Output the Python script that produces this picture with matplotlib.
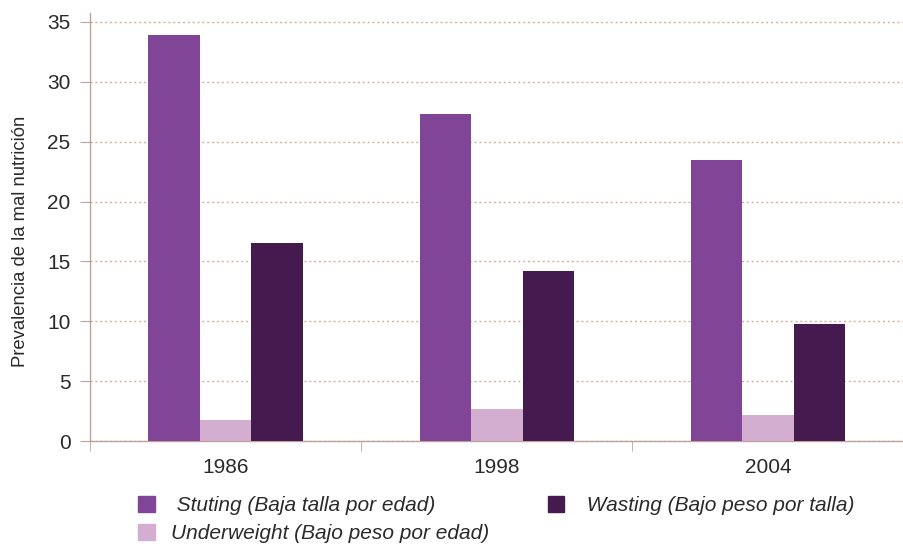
import matplotlib
matplotlib.use("Agg")
import matplotlib.pyplot as plt
import numpy as np
from matplotlib.patches import Patch

years = ["1986", "1998", "2004"]
stunting = [33.9, 27.3, 23.5]
underweight = [1.75, 2.65, 2.15]
wasting = [16.5, 14.2, 9.8]
series_labels = [" Stuting (Baja talla por edad)",
                 "Underweight (Bajo peso por edad)",
                 " Wasting (Bajo peso por talla)"]
colors = ["#804596", "#d4aed1", "#441a4f"]

plt.rcParams['font.family'] = ['Liberation Sans', 'DejaVu Sans']
txt_c = "#2a2a2a"

fig = plt.figure(figsize=(9.04, 5.44), dpi=100)
ax = fig.add_axes([0.0996, 0.1893, 0.9, 0.787])

x = np.arange(len(years))
w = 0.19
ax.bar(x - w, stunting, w, color=colors[0], zorder=3)
ax.bar(x, underweight, w, color=colors[1], zorder=3)
ax.bar(x + w, wasting, w, color=colors[2], zorder=3)

ax.set_xlim(-0.5, 2.5)
ax.set_ylim(0, 35.75)
ax.set_yticks(np.arange(0, 36, 5))
ax.set_xticks(x)
ax.set_xticklabels(years)
ax.set_xticks([-0.5, 0.5, 1.5, 2.5], minor=True)

spine_c = "#c0a098"
for s in ["top", "right"]:
    ax.spines[s].set_visible(False)
for s in ["left", "bottom"]:
    ax.spines[s].set_color(spine_c)
    ax.spines[s].set_linewidth(1.0)

ax.yaxis.grid(True, linestyle=(0, (1.5, 2)), color="#d2aea4", linewidth=1.0, zorder=0)
ax.tick_params(axis="y", length=7, color=spine_c, pad=7, labelsize=15, labelcolor=txt_c)
ax.tick_params(axis="x", which="major", length=0, pad=12, labelsize=15, labelcolor=txt_c)
ax.tick_params(axis="x", which="minor", length=7, color=spine_c)

ax.set_ylabel("Prevalencia de la mal nutrición", fontsize=13.3, color=txt_c)
ax.yaxis.set_label_coords(-0.075, 0.467)

handles = [Patch(color=c) for c in colors]
fig.legend(handles, series_labels, ncol=2, loc="upper left",
           bbox_to_anchor=(0.141, 0.107), frameon=False,
           prop={"style": "italic", "size": 15}, handlelength=0.8, handleheight=0.8,
           handletextpad=0.8, columnspacing=2.8, labelspacing=0.4, borderpad=0,
           labelcolor=txt_c)

fig.savefig("out.png", dpi=100)
